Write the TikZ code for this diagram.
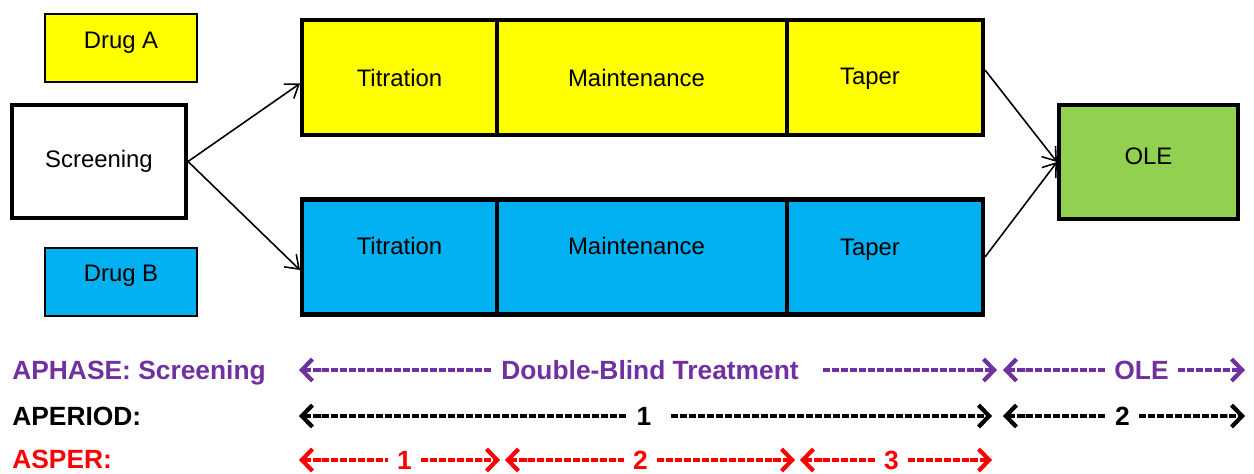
\documentclass[tikz,border=0pt]{standalone}
\usepackage{fontspec}
\setmainfont{Liberation Sans}
\usetikzlibrary{arrows.meta,positioning}

\definecolor{yellowA}{HTML}{FFFF00}
\definecolor{blueB}{HTML}{00B0F0}
\definecolor{olegreen}{HTML}{92D050}
\definecolor{aphasecol}{HTML}{7030A0}
\definecolor{aspercol}{HTML}{FF0000}

\tikzset{
    drugbox/.style={draw, line width=0.6pt, minimum width=3.04cm, minimum height=1.36cm},
    thickbox/.style={draw, line width=2.3pt},
    phasebox/.style={thickbox, minimum height=2.3cm},
    flow/.style={-{Straight Barb[length=7pt,width=10pt]}, line width=0.9pt},
    rowname/.style={anchor=base west, inner sep=0pt, font=\bfseries\fontsize{15}{18}\selectfont},
    rowtext/.style={inner xsep=0.18cm, inner ysep=0pt, font=\bfseries\fontsize{15}{18}\selectfont},
    dashspan/.style={line width=2.4pt, dash pattern=on 0.145cm off 0.035cm},
    >={Rectangle[length=5pt,width=2.4pt]Straight Barb[length=6pt,width=12.5pt]}
}

\begin{document}
\begin{tikzpicture}[x=1cm, y=-1cm, font=\fontsize{13.6}{16}\selectfont]
    \useasboundingbox (0,0) rectangle (25.08,9.46);

    % Legend and screening
    \node[drugbox, fill=yellowA, label={[yshift=0.11cm]center:Drug A}] (drugA) at (2.42,0.96) {};
    \node[drugbox, fill=blueB, label={[yshift=0.12cm]center:Drug B}] (drugB) at (2.42,5.64) {};
    \node[thickbox, fill=white, minimum width=3.48cm, minimum height=2.26cm] (scr) at (1.98,3.23) {Screening};

    % Drug A arm
    \node[phasebox, fill=yellowA, minimum width=3.9cm] (titA) at (7.99,1.55) {Titration};
    \node[phasebox, fill=yellowA, minimum width=5.8cm, label={[xshift=-0.11cm]center:Maintenance}] (mntA) at (12.84,1.55) {};
    \node[phasebox, fill=yellowA, minimum width=3.92cm, label={[xshift=-0.3cm, yshift=-0.03cm]center:Taper}] (tapA) at (17.70,1.55) {};

    % Drug B arm
    \node[phasebox, fill=blueB, minimum width=3.9cm, label={[yshift=0.22cm]center:Titration}] (titB) at (7.99,5.14) {};
    \node[phasebox, fill=blueB, minimum width=5.8cm, label={[xshift=-0.11cm, yshift=0.22cm]center:Maintenance}] (mntB) at (12.84,5.14) {};
    \node[phasebox, fill=blueB, minimum width=3.92cm, label={[xshift=-0.3cm, yshift=0.15cm]center:Taper}] (tapB) at (17.70,5.14) {};

    % Open-label extension
    \node[thickbox, fill=olegreen, minimum width=3.58cm, minimum height=2.28cm, label={[yshift=0.11cm]center:OLE}] (ole) at (22.97,3.24) {};

    \draw[flow] (scr.east) -- ([yshift=-0.12cm]titA.west);
    \draw[flow] (scr.east) -- ([yshift=-0.26cm]titB.west);
    \draw[flow] ([yshift=0.15cm]tapA.east) -- (ole.west);
    \draw[flow] (tapB.east) -- (ole.west);

    % APHASE
    \begin{scope}[color=aphasecol]
        \node[rowname] (phaseRow) at (0.24,7.58) {APHASE: Screening};
        \node[rowtext] (dbt) at (13.00,7.40) {Double-Blind Treatment};
        \node[rowtext] (oleTxt) at (22.83,7.40) {OLE};
        \coordinate (ph0) at (5.98,7.40);
        \coordinate (ph1) at (19.94,7.40);
        \coordinate (ph2) at (20.06,7.40);
        \coordinate (ph3) at (24.90,7.40);
        \draw[dashspan, <-] (ph0) -- (dbt.west);
        \draw[dashspan, ->, shorten <=0.3cm] (dbt.east) -- (ph1);
        \draw[dashspan, <-] (ph2) -- (oleTxt.west);
        \draw[dashspan, ->] (oleTxt.east) -- (ph3);
    \end{scope}

    % APERIOD
    \node[rowname] (periodRow) at (0.24,8.50) {APERIOD:};
    \node[rowtext] (per1) at (12.88,8.32) {1};
    \node[rowtext] (per2) at (22.45,8.32) {2};
    \coordinate (pe0) at (5.98,8.32);
    \coordinate (pe1) at (19.84,8.32);
    \coordinate (pe2) at (20.06,8.32);
    \coordinate (pe3) at (24.90,8.32);
    \draw[dashspan, <-] (pe0) -- (per1.west);
    \draw[dashspan, ->, shorten <=0.2cm] (per1.east) -- (pe1);
    \draw[dashspan, <-] (pe2) -- (per2.west);
    \draw[dashspan, ->] (per2.east) -- (pe3);

    % ASPER
    \begin{scope}[color=aspercol]
        \node[rowname] (sperRow) at (0.24,9.37) {ASPER:};
        \foreach \s/\e/\m/\t in {5.98/10.00/8.09/1, 10.10/15.90/12.81/2, 16.00/19.84/17.83/3} {
            \node[rowtext] (sp\t) at (\m,9.20) {\t};
            \coordinate (s\t) at (\s,9.20);
            \coordinate (e\t) at (\e,9.20);
            \draw[dashspan, <-] (s\t) -- (sp\t.west);
            \draw[dashspan, ->] (sp\t.east) -- (e\t);
        }
    \end{scope}
\end{tikzpicture}
\end{document}
